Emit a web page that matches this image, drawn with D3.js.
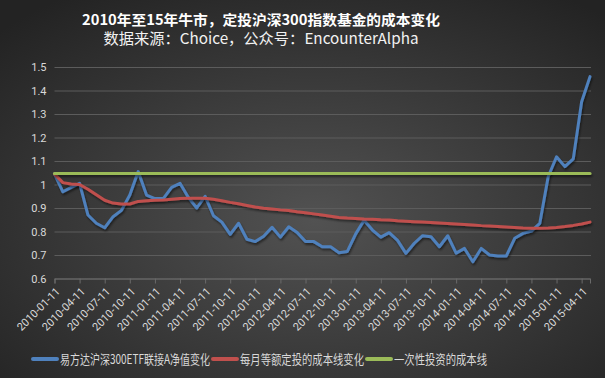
<!DOCTYPE html>
<html>
<head>
<meta charset="utf-8">
<script src="https://cdn.jsdelivr.net/npm/d3@7"></script>
<style>
  body { margin: 0; background: #2b2b2b; }
  text { font-family: "Noto Sans CJK SC", "Noto Sans", sans-serif; }
</style>
</head>
<body>
<div id="chart"></div>
<script>
// monthly dates (category axis)
const dates = [
  "2010-01-11","2010-02-11","2010-03-11","2010-04-11","2010-05-11","2010-06-11",
  "2010-07-11","2010-08-11","2010-09-11","2010-10-11","2010-11-11","2010-12-11",
  "2011-01-11","2011-02-11","2011-03-11","2011-04-11","2011-05-11","2011-06-11",
  "2011-07-11","2011-08-11","2011-09-11","2011-10-11","2011-11-11","2011-12-11",
  "2012-01-11","2012-02-11","2012-03-11","2012-04-11","2012-05-11","2012-06-11",
  "2012-07-11","2012-08-11","2012-09-11","2012-10-11","2012-11-11","2012-12-11",
  "2013-01-11","2013-02-11","2013-03-11","2013-04-11","2013-05-11","2013-06-11",
  "2013-07-11","2013-08-11","2013-09-11","2013-10-11","2013-11-11","2013-12-11",
  "2014-01-11","2014-02-11","2014-03-11","2014-04-11","2014-05-11","2014-06-11",
  "2014-07-11","2014-08-11","2014-09-11","2014-10-11","2014-11-11","2014-12-11",
  "2015-01-11","2015-02-11","2015-03-11","2015-04-11","2015-05-11"
];

// 易方达沪深300ETF联接A 净值
const navValues = [
  1.045, 0.969, 0.988, 1.005, 0.870, 0.835, 0.816, 0.863, 0.890, 0.955,
  1.055, 0.955, 0.940, 0.940, 0.988, 1.005, 0.945, 0.900, 0.950, 0.867,
  0.840, 0.788, 0.835, 0.767, 0.757, 0.780, 0.818, 0.776, 0.820, 0.796,
  0.757, 0.757, 0.735, 0.735, 0.710, 0.715, 0.790, 0.848, 0.806, 0.776,
  0.795, 0.762, 0.707, 0.750, 0.782, 0.778, 0.735, 0.782, 0.708, 0.728,
  0.671, 0.728, 0.700, 0.696, 0.696, 0.771, 0.792, 0.802, 0.835, 1.033,
  1.118, 1.076, 1.109, 1.352, 1.459
];

// 每月等额定投的成本线
const dcaCost = [
  1.045, 1.008, 1.002, 1.000, 0.980, 0.956, 0.933, 0.921, 0.917, 0.917,
  0.928, 0.931, 0.933, 0.934, 0.937, 0.940, 0.941, 0.941, 0.941, 0.937,
  0.931, 0.924, 0.918, 0.911, 0.904, 0.899, 0.896, 0.892, 0.889, 0.884,
  0.880, 0.875, 0.870, 0.865, 0.860, 0.857, 0.855, 0.853, 0.852, 0.850,
  0.849, 0.846, 0.844, 0.842, 0.840, 0.838, 0.836, 0.834, 0.832, 0.830,
  0.828, 0.825, 0.823, 0.821, 0.819, 0.817, 0.815, 0.814, 0.814, 0.815,
  0.817, 0.821, 0.826, 0.832, 0.840
];

// 一次性投资的成本线 (flat)
const lumpSumCost = 1.047;

const yTicks = [0.6, 0.7, 0.8, 0.9, 1.0, 1.1, 1.2, 1.3, 1.4, 1.5];
const seriesNames = ["易方达沪深300ETF联接A净值变化", "每月等额定投的成本线变化", "一次性投资的成本线"];
const seriesColors = ["#4f81bd", "#c0504d", "#9bbb59"];

const width = 605;
const height = 378;
const margin = { top: 67, right: 15, bottom: 99.5, left: 54.5 };
const innerW = width - margin.left - margin.right;
const innerH = height - margin.top - margin.bottom;

const series = [
  navValues.map((v, i) => ({ date: dates[i], value: v })),
  dcaCost.map((v, i) => ({ date: dates[i], value: v })),
  dates.map(d => ({ date: d, value: lumpSumCost }))
];

const svg = d3.select("#chart")
  .append("svg")
  .attr("width", width)
  .attr("height", height);

const defs = svg.append("defs");
const grad = defs.append("radialGradient")
  .attr("id", "bg")
  .attr("cx", "52%").attr("cy", "58%").attr("r", "72%");
grad.append("stop").attr("offset", "0%").attr("stop-color", "#525252");
grad.append("stop").attr("offset", "100%").attr("stop-color", "#232323");

// user space units so the flat line keeps its shadow too
defs.append("filter")
  .attr("id", "shadow")
  .attr("filterUnits", "userSpaceOnUse")
  .attr("x", -20).attr("y", -20).attr("width", width).attr("height", height)
  .append("feDropShadow")
  .attr("dx", 1).attr("dy", 2).attr("stdDeviation", 1.2)
  .attr("flood-color", "#000").attr("flood-opacity", 0.5);

svg.append("rect")
  .attr("width", width)
  .attr("height", height)
  .attr("fill", "url(#bg)");

// title
svg.append("text")
  .attr("x", 261).attr("y", 25)
  .attr("text-anchor", "middle")
  .attr("font-size", 14)
  .attr("font-weight", "bold")
  .attr("fill", "#ffffff")
  .attr("textLength", 358)
  .attr("lengthAdjust", "spacingAndGlyphs")
  .text("2010年至15年牛市，定投沪深300指数基金的成本变化");

svg.append("text")
  .attr("x", 261).attr("y", 44)
  .attr("text-anchor", "middle")
  .attr("font-size", 15)
  .attr("fill", "#f2f2f2")
  .attr("textLength", 315)
  .attr("lengthAdjust", "spacingAndGlyphs")
  .text("数据来源：Choice，公众号：EncounterAlpha");

const g = svg.append("g")
  .attr("transform", `translate(${margin.left}, ${margin.top})`);

const x = d3.scalePoint()
  .domain(dates)
  .range([0, innerW]);

const y = d3.scaleLinear()
  .domain([0.6, 1.5])
  .range([innerH, 0]);

// gridlines + y labels
const yAxis = g.append("g")
  .call(d3.axisLeft(y)
    .tickValues(yTicks)
    .tickSize(-innerW - 1)
    .tickPadding(8)
    .tickFormat(d3.format("~g")));
yAxis.select(".domain").remove();
yAxis.selectAll("line").attr("stroke", "#5c5c5c");
yAxis.selectAll("text")
  .attr("fill", "#d9d9d9")
  .attr("font-size", 11)
  .style("font-family", "Roboto, sans-serif");

// x axis
const xAxis = g.append("g")
  .attr("transform", `translate(0, ${innerH})`)
  .call(d3.axisBottom(x)
    .tickValues(dates.filter((d, i) => i % 3 === 0))
    .tickSize(5));
xAxis.select(".domain").attr("stroke", "#6a6a6a");
xAxis.selectAll("line").attr("stroke", "#6a6a6a");
xAxis.selectAll("text")
  .attr("x", 0).attr("y", 0).attr("dy", "0.35em")
  .attr("transform", "translate(3, 11) rotate(-45)")
  .style("text-anchor", "end")
  .attr("fill", "#d9d9d9")
  .attr("font-size", 11)
  .style("font-family", "Roboto, sans-serif");

// lines
const line = d3.line()
  .x(d => x(d.date))
  .y(d => y(d.value));

g.selectAll(".series")
  .data(series)
  .enter().append("path")
  .attr("class", "series")
  .attr("d", line)
  .attr("fill", "none")
  .attr("stroke", (d, i) => seriesColors[i])
  .attr("stroke-width", 3)
  .attr("stroke-linejoin", "round")
  .attr("stroke-linecap", "round")
  .attr("filter", "url(#shadow)");

// legend
const legendX = [33, 213, 367];
const legendTextLen = [150, 124, 93];
const legend = svg.append("g")
  .attr("transform", "translate(0, 359)");

seriesNames.forEach((name, i) => {
  legend.append("line")
    .attr("x1", legendX[i]).attr("x2", legendX[i] + 24)
    .attr("y1", 0).attr("y2", 0)
    .attr("stroke", seriesColors[i])
    .attr("stroke-width", 4)
    .attr("stroke-linecap", "round");
  legend.append("text")
    .attr("x", legendX[i] + 27)
    .attr("y", 5)
    .attr("font-size", 13)
    .attr("fill", "#d9d9d9")
    .attr("textLength", legendTextLen[i])
    .attr("lengthAdjust", "spacingAndGlyphs")
    .text(name);
});
</script>
</body>
</html>
